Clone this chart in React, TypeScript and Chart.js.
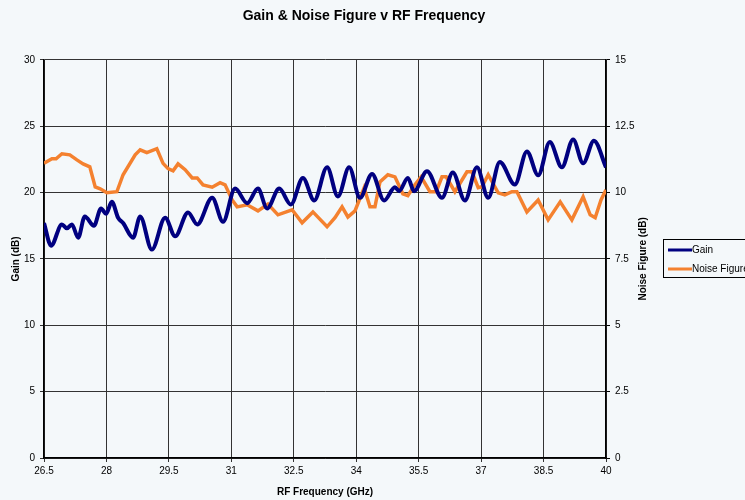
import React, { useEffect, useRef } from "react";
import { Chart, registerables } from "chart.js";

Chart.register(...registerables);

const chartTitle = "Gain & Noise Figure v RF Frequency";
const xTitle = "RF Frequency (GHz)";
const yLeftTitle = "Gain (dB)";
const yRightTitle = "Noise Figure (dB)";
const seriesNames = ["Gain", "Noise Figure"];
const seriesColors = ["#000080", "#F4812F"];

const xTicks = [26.5, 28, 29.5, 31, 32.5, 34, 35.5, 37, 38.5, 40];
const gainTicks = [0, 5, 10, 15, 20, 25, 30];
const nfTicks = [0, 2.5, 5, 7.5, 10, 12.5, 15];

const gainFreq = [
  26.5, 26.67, 26.93, 27.05, 27.17, 27.32, 27.48, 27.7, 27.87, 27.99, 28.13, 28.28, 28.4, 28.64,
  28.81, 29.09, 29.41, 29.65, 29.96, 30.18, 30.54, 30.8, 31.09, 31.38, 31.64, 31.86, 32.15, 32.43,
  32.72, 32.99, 33.3, 33.56, 33.83, 34.09, 34.38, 34.67, 34.93, 35.03, 35.24, 35.39, 35.7, 36.06,
  36.32, 36.61, 36.9, 37.17, 37.45, 37.81, 38.1, 38.37, 38.65, 38.94, 39.21, 39.45, 39.71, 40.0,
];
const gainDb = [
  17.7, 16.0, 17.6, 17.3, 17.6, 16.6, 18.2, 17.5, 18.8, 18.4, 19.3, 18.1, 17.7, 16.6,
  18.2, 15.7, 18.1, 16.7, 18.5, 17.6, 19.6, 17.8, 20.3, 19.2, 20.3, 18.8, 20.3, 19.1,
  21.1, 19.4, 21.9, 19.7, 21.9, 19.6, 21.4, 19.4, 20.4, 20.1, 21.1, 20.1, 21.6, 19.6,
  21.5, 19.4, 21.9, 19.6, 22.3, 20.6, 23.1, 21.3, 23.8, 21.9, 24.0, 22.2, 23.9, 21.9,
];

const nfFreq = [
  26.5, 26.69, 26.79, 26.93, 27.12, 27.29, 27.44, 27.6, 27.73, 27.85, 28.01, 28.25, 28.4, 28.69,
  28.81, 28.97, 29.21, 29.36, 29.48, 29.6, 29.72, 29.89, 30.06, 30.18, 30.32, 30.54, 30.73, 30.85,
  31.02, 31.14, 31.38, 31.64, 31.88, 32.12, 32.46, 32.7, 32.96, 33.3, 33.49, 33.66, 33.8, 33.97,
  34.19, 34.33, 34.45, 34.57, 34.76, 34.93, 35.12, 35.24, 35.41, 35.56, 35.77, 35.92, 36.06, 36.16,
  36.37, 36.66, 36.78, 36.93, 37.02, 37.17, 37.41, 37.57, 37.74, 37.86, 38.1, 38.37, 38.61, 38.9,
  39.18, 39.45, 39.62, 39.74, 39.88, 40.0,
];
const nfDb = [
  11.1, 11.27, 11.27, 11.46, 11.42, 11.23, 11.08, 10.97, 10.21, 10.14, 9.99, 10.03, 10.67, 11.42,
  11.61, 11.5, 11.65, 11.1, 10.9, 10.82, 11.08, 10.86, 10.55, 10.55, 10.29, 10.2, 10.37, 10.29,
  9.72, 9.46, 9.54, 9.31, 9.57, 9.16, 9.35, 8.86, 9.27, 8.71, 9.05, 9.46, 9.08, 9.31,
  10.18, 9.46, 9.46, 10.4, 10.67, 10.59, 9.95, 9.88, 10.29, 10.59, 10.03, 10.03, 10.59, 10.59,
  10.03, 10.78, 10.78, 10.18, 10.22, 10.67, 9.99, 9.91, 10.03, 10.03, 9.27, 9.72, 8.97, 9.65,
  8.97, 9.84, 9.16, 9.05, 9.72, 10.1,
];

const FONT = "'Liberation Sans', Arial, Helvetica, sans-serif";
const BG = "#f4f8fa";

const bgPlugin = {
  id: "bgFill",
  beforeDraw(chart: any) {
    const { ctx, width, height } = chart;
    ctx.save();
    ctx.fillStyle = BG;
    ctx.fillRect(0, 0, width, height);
    ctx.restore();
  },
};

const extrasPlugin = {
  id: "extras",
  afterDraw(chart: any) {
    const { ctx, chartArea } = chart;
    ctx.save();
    // right axis title, reading bottom to top
    ctx.translate(643, (chartArea.top + chartArea.bottom) / 2);
    ctx.rotate(-Math.PI / 2);
    ctx.fillStyle = "#000";
    ctx.font = `bold 10px ${FONT}`;
    ctx.textAlign = "center";
    ctx.textBaseline = "middle";
    ctx.fillText(yRightTitle, 0, 0);
    ctx.restore();

    // legend box
    ctx.save();
    ctx.strokeStyle = "#000";
    ctx.lineWidth = 1;
    ctx.strokeRect(663.5, 239.5, 100, 38);
    ctx.font = `10px ${FONT}`;
    ctx.textBaseline = "middle";
    ctx.textAlign = "left";
    chart.data.datasets.forEach((ds: any, i: number) => {
      const y = 250 + i * 19;
      ctx.strokeStyle = ds.borderColor;
      ctx.lineWidth = 3;
      ctx.beginPath();
      ctx.moveTo(668, y);
      ctx.lineTo(692, y);
      ctx.stroke();
      ctx.fillStyle = "#000";
      ctx.fillText(ds.label, 692, y);
    });
    ctx.restore();
  },
};

export default function App() {
  const ref = useRef<HTMLCanvasElement | null>(null);

  useEffect(() => {
    if (!ref.current) return;
    const tickFont = { family: FONT, size: 10 };
    const titleFont = { family: FONT, size: 10, weight: "bold" as const };
    const chart = new Chart(ref.current, {
      type: "line",
      data: {
        datasets: [
          {
            label: seriesNames[0],
            data: gainFreq.map((f, i) => ({ x: f, y: gainDb[i] })),
            borderColor: seriesColors[0],
            backgroundColor: seriesColors[0],
            borderWidth: 4,
            pointRadius: 0,
            cubicInterpolationMode: "monotone",
            yAxisID: "y",
          },
          {
            label: seriesNames[1],
            data: nfFreq.map((f, i) => ({ x: f, y: nfDb[i] })),
            borderColor: seriesColors[1],
            backgroundColor: seriesColors[1],
            borderWidth: 3.5,
            pointRadius: 0,
            tension: 0,
            yAxisID: "y1",
          },
        ],
      },
      options: {
        animation: false,
        responsive: false,
        layout: { padding: { left: 0, right: 17, top: 0, bottom: 0 } },
        plugins: {
          legend: { display: false },
          tooltip: { enabled: false },
          title: {
            display: true,
            text: chartTitle,
            color: "#000",
            font: { family: FONT, size: 14, weight: "bold" },
            padding: { top: 8, bottom: 35 },
          },
        },
        scales: {
          x: {
            type: "linear",
            position: "bottom",
            min: xTicks[0],
            max: xTicks[xTicks.length - 1],
            afterBuildTicks: (s: any) => {
              s.ticks = xTicks.map((v) => ({ value: v }));
            },
            afterFit: (s: any) => {
              s.height = 42;
            },
            ticks: {
              color: "#000",
              font: tickFont,
              padding: 3,
              autoSkip: false,
              maxRotation: 0,
              callback: (v: any) => String(v),
            },
            grid: { color: "#333", lineWidth: 1, tickLength: 4 },
            border: { color: "#000", width: 1.5 },
            title: {
              display: true,
              text: xTitle,
              color: "#000",
              font: titleFont,
              padding: { top: 0, bottom: 2 },
            },
          },
          y: {
            type: "linear",
            position: "left",
            min: gainTicks[0],
            max: gainTicks[gainTicks.length - 1],
            afterBuildTicks: (s: any) => {
              s.ticks = gainTicks.map((v) => ({ value: v }));
            },
            afterFit: (s: any) => {
              s.width = 44;
            },
            ticks: { color: "#000", font: tickFont, padding: 5, callback: (v: any) => String(v) },
            grid: { color: "#333", lineWidth: 1, tickLength: 4 },
            border: { color: "#000", width: 1.5 },
            title: {
              display: true,
              text: yLeftTitle,
              color: "#000",
              font: titleFont,
              padding: { top: 10, bottom: 0 },
            },
          },
          y1: {
            type: "linear",
            position: "right",
            min: nfTicks[0],
            max: nfTicks[nfTicks.length - 1],
            afterBuildTicks: (s: any) => {
              s.ticks = nfTicks.map((v) => ({ value: v }));
            },
            afterFit: (s: any) => {
              s.width = 122;
            },
            ticks: { color: "#000", font: tickFont, padding: 5, callback: (v: any) => String(v) },
            grid: { drawOnChartArea: false, color: "#000", tickLength: 4 },
            border: { color: "#000", width: 1.5 },
          },
        },
      },
      plugins: [bgPlugin, extrasPlugin],
    } as any);
    return () => chart.destroy();
  }, []);

  return (
    <div style={{ position: "absolute", left: 0, top: 0, width: 745, height: 500, overflow: "hidden" }}>
      <canvas ref={ref} width={745} height={500} style={{ display: "block", width: 745, height: 500 }} />
    </div>
  );
}
